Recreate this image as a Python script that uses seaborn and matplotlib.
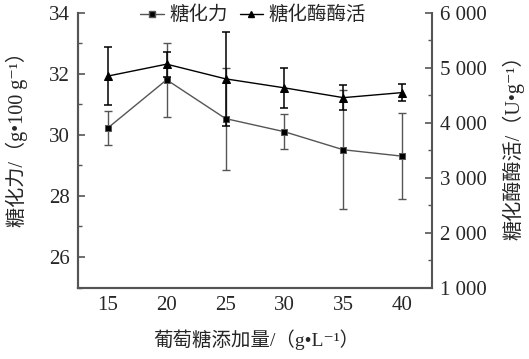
import matplotlib
matplotlib.use("Agg")
import matplotlib.pyplot as plt
import seaborn as sns
import pandas as pd
from matplotlib.ticker import MultipleLocator, FuncFormatter
from matplotlib.lines import Line2D

glucose = [15, 20, 25, 30, 35, 40]
saccharifying_power = [30.22, 31.80, 30.53, 30.10, 29.51, 29.30]
saccharifying_power_err = [0.57, 1.22, 1.67, 0.57, 1.94, 1.41]
enzyme_activity = [4845, 5062, 4795, 4631, 4453, 4545]
enzyme_activity_err = [527, 230, 855, 370, 230, 158]

sns.set_style("white")
plt.rcParams["font.family"] = ["Liberation Serif", "Noto Sans CJK SC", "DejaVu Sans"]

df = pd.DataFrame({"x": glucose, "p": saccharifying_power, "a": enzyme_activity})

fig = plt.figure(figsize=(5.29, 3.59), dpi=100)
ax = fig.add_axes([0.148, 0.199, 0.668, 0.766])
ax2 = ax.twinx()

gray = "#555555"
ax.errorbar(glucose, saccharifying_power, yerr=saccharifying_power_err, fmt="none",
            ecolor=gray, elinewidth=1.0, capsize=3, capthick=1.0, zorder=2)
sns.lineplot(data=df, x="x", y="p", ax=ax, color=gray, linewidth=1.0, marker="s",
             markersize=5, markerfacecolor="black", markeredgecolor=gray, zorder=3)
ax2.errorbar(glucose, enzyme_activity, yerr=enzyme_activity_err, fmt="none",
             ecolor="black", elinewidth=1.1, capsize=3, capthick=1.1, zorder=2)
sns.lineplot(data=df, x="x", y="a", ax=ax2, color="black", linewidth=1.0, marker="^",
             markersize=6, markerfacecolor="black", markeredgecolor="black", zorder=3)

ax.set_xlim(12.5, 42.5)
ax.set_ylim(25, 34)
ax2.set_ylim(1000, 6000)
ax.set_xticks(glucose)
ax.set_yticks([26, 28, 30, 32, 34])
ax.yaxis.set_minor_locator(MultipleLocator(1))
ax2.set_yticks([1000, 2000, 3000, 4000, 5000, 6000])
ax2.yaxis.set_minor_locator(MultipleLocator(500))
ax2.yaxis.set_major_formatter(FuncFormatter(lambda v, p: f"{int(v):,}".replace(",", " ")))

spc = "#555555"
for a in (ax, ax2):
    for s in ["left", "right", "bottom"]:
        a.spines[s].set_color(spc)
        a.spines[s].set_linewidth(1.5)
    a.spines["top"].set_visible(False)
ax.spines["right"].set_visible(False)

ax.tick_params(axis="both", which="major", direction="in", length=5, width=1.2,
               color=spc, labelsize=15, pad=6)
ax.tick_params(axis="y", which="minor", direction="in", length=3, width=1.0, color=spc, left=True)
ax2.tick_params(axis="y", which="major", direction="in", length=5, width=1.2,
                color=spc, labelsize=15, pad=6)
ax2.tick_params(axis="y", which="minor", direction="in", length=3, width=1.0, color=spc, right=True)
ax.tick_params(axis="x", which="minor", bottom=False)

ax.set_xlabel("葡萄糖添加量/（g•L⁻¹）", fontsize=14)
ax.set_ylabel("糖化力/（g•100 g⁻¹）", fontsize=14.5)
ax2.set_ylabel("糖化酶酶活/（U•g⁻¹）", fontsize=14.5, rotation=90)
ax.xaxis.set_label_coords(0.503, -0.152)
ax.yaxis.set_label_coords(-0.142, 0.555)
ax2.yaxis.set_label_coords(1.199, 0.526)

handles = [
    Line2D([], [], color=gray, linewidth=1.0, marker="s", markersize=4,
           markerfacecolor="black", markeredgecolor=gray),
    Line2D([], [], color="black", linewidth=1.0, marker="^", markersize=5,
           markerfacecolor="black"),
]
fig.legend(handles, ["糖化力", "糖化酶酶活"], loc="center", bbox_to_anchor=(0.479, 0.958),
           ncol=2, frameon=False, fontsize=14, handlelength=1.2, handletextpad=0.3,
           columnspacing=0.6, borderaxespad=0, borderpad=0)

fig.savefig("out.png", dpi=100)
